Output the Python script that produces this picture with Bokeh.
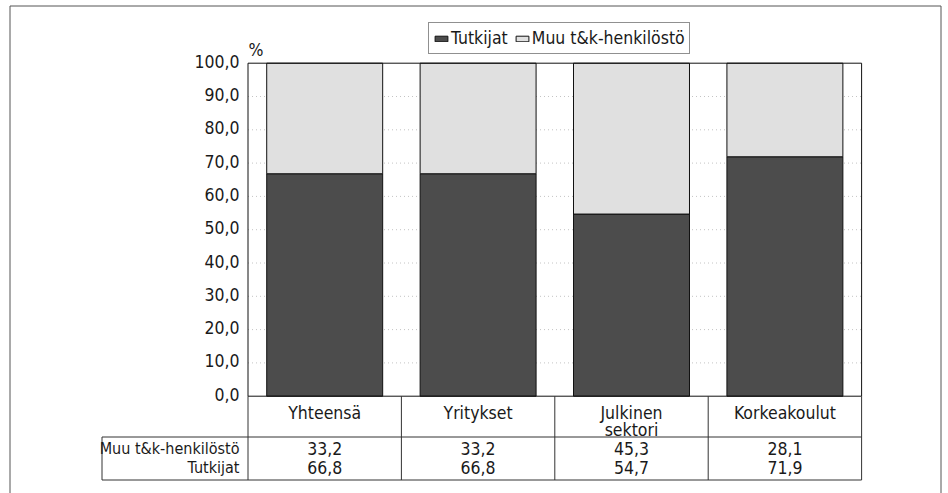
from bokeh.plotting import figure
from bokeh.models import ColumnDataSource, Range1d, Legend, LegendItem
from bokeh.core.properties import value
from bokeh.embed import file_html
from bokeh.resources import INLINE

# ---- data ----
categories = ["Yhteensä", "Yritykset", "Julkinen\nsektori", "Korkeakoulut"]
tutkijat = [66.8, 66.8, 54.7, 71.9]
muu = [33.2, 33.2, 45.3, 28.1]
series_names = ["Tutkijat", "Muu t&k-henkilöstö"]
y_ticks = [0, 10, 20, 30, 40, 50, 60, 70, 80, 90, 100]

FONT = "'DejaVu Sans Condensed', 'Liberation Sans Narrow', 'Liberation Sans', sans-serif"
FS = "17.5px"       # ticks, categories, values
FS_ROW = "16px"     # row labels of the table
DARK = "#4c4c4c"
LIGHT = "#e0e0e0"
TXT = "#1a1a1a"

def fmt(v):
    return f"{v:.1f}".replace(".", ",")

# pixel geometry helpers (layout only)
OX, OY = 0, 0               # page position of the figure
W, H = 942, 493
PX0, PXU = 247.5, 153.4     # page x of category 0 edge, px per category
PY0, PYU = 395.7, 3.33      # page y of value 0, px per percent
def dx(px):
    return (px - PX0) / PXU
def dy(py):
    return (PY0 - py) / PYU

p = figure(width=W, height=H, output_backend="svg", toolbar_location=None,
           x_axis_location=None, y_axis_location=None,
           x_range=Range1d(dx(OX), dx(OX + W)), y_range=Range1d(dy(OY + H), dy(OY)),
           min_border=0, outline_line_color=None, background_fill_color="white",
           border_fill_color="white")
p.grid.visible = False

n = len(categories)
xs = [i + 0.5 for i in range(n)]
src = ColumnDataSource(dict(x=xs, cat=categories, tut=tutkijat, muu=muu,
                            tut_lbl=[fmt(v) for v in tutkijat],
                            muu_lbl=[fmt(v) for v in muu]))

# dotted gridlines
grid_y = [v for v in y_ticks if 0 < v < 100]
p.segment(x0=[0] * len(grid_y), x1=[n] * len(grid_y), y0=grid_y, y1=grid_y,
          line_color="#c4c4c4", line_width=1, line_dash="1 3")

# stacked bars
rs = p.vbar_stack(["tut", "muu"], x="x", width=0.756, source=src,
                  fill_color=[DARK, LIGHT], line_color="#111111", line_width=1)

# plot frame
p.quad(left=[0], right=[n], bottom=[0], top=[100], fill_color=None,
       line_color="#111111", line_width=1)

# y tick labels
p.text(x=[dx(239)] * len(y_ticks), y=[v + 0.6 for v in y_ticks],
       text=[fmt(v) for v in y_ticks], text_align="right", text_baseline="middle",
       text_font=value(FONT), text_font_size=FS, text_color=TXT)
p.text(x=[dx(248)], y=[dy(49)], text=["%"], text_align="left", text_baseline="middle",
       text_font=value(FONT), text_font_size=FS, text_color=TXT)

# table lines
yt_mid = dy(436.5)
yt_bot = dy(479.5)
xl = dx(101.5)
p.segment(x0=list(range(n + 1)), x1=list(range(n + 1)), y0=[0] * (n + 1),
          y1=[yt_bot] * (n + 1), line_color="#333333", line_width=1)
p.segment(x0=[xl, xl], x1=[n, n], y0=[yt_mid, yt_bot], y1=[yt_mid, yt_bot],
          line_color="#333333", line_width=1)
p.segment(x0=[xl], x1=[xl], y0=[yt_mid], y1=[yt_bot], line_color="#333333", line_width=1)

# category labels
p.text(x="x", y=dy(402), text="cat", source=src, text_align="center",
       text_baseline="top", text_line_height=0.85,
       text_font=value(FONT), text_font_size=FS, text_color=TXT)

# table values
y_r1, y_r2 = dy(448), dy(467)
p.text(x="x", y=y_r1, text="muu_lbl", source=src, text_align="center",
       text_baseline="middle", text_font=value(FONT), text_font_size=FS, text_color=TXT)
p.text(x="x", y=y_r2, text="tut_lbl", source=src, text_align="center",
       text_baseline="middle", text_font=value(FONT), text_font_size=FS, text_color=TXT)
p.text(x=[dx(239), dx(239)], y=[y_r1, y_r2], text=[series_names[1], series_names[0]],
       text_align="right", text_baseline="middle",
       text_font=value(FONT), text_font_size=FS_ROW, text_color=TXT)

# outer border (left, top, right)
bl, br, bt, bb = dx(9.5), dx(940.5), dy(5.5), dy(OY + H + 5)
p.segment(x0=[bl, bl, br], x1=[bl, br, br], y0=[bb, bt, bt], y1=[bt, bt, bb],
          line_color="#555555", line_width=1)

# legend
legend = Legend(items=[LegendItem(label=series_names[0], renderers=[rs[0]]),
                       LegendItem(label=series_names[1], renderers=[rs[1]])],
                orientation="horizontal", location=(428 - OX, OY + H - 54),
                label_text_font=FONT, label_text_font_size="17.5px",
                label_text_color=TXT, label_standoff=2, label_height=22,
                glyph_width=16, glyph_height=7, spacing=6, padding=4, margin=0,
                border_line_color="#222222", border_line_width=1,
                background_fill_color="white", background_fill_alpha=1.0)
p.add_layout(legend)

open("out.html", "w").write(file_html(p, INLINE))
